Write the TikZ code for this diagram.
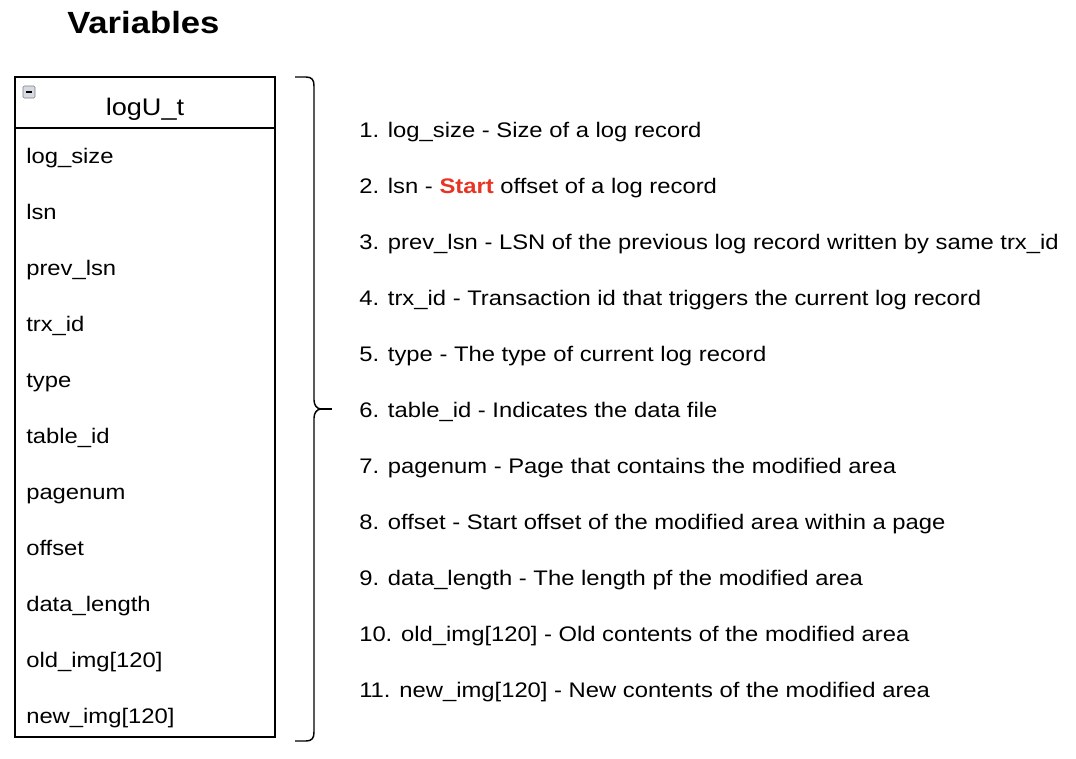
\documentclass[tikz,border=0pt]{standalone}
\usepackage{xcolor}
\usepackage{fontspec}
\setmainfont{Liberation Sans}[FakeStretch=1.13]
\usepackage{tikz}
\usetikzlibrary{positioning}
\definecolor{mydark}{RGB}{0,0,0}
\definecolor{startred}{RGB}{232,52,36}
\definecolor{iconfill}{RGB}{215,218,224}
\definecolor{iconframe}{RGB}{120,125,135}
\tikzset{
  title/.style={anchor=base west, inner sep=0pt,
    font=\fontsize{23}{27}\selectfont\bfseries},
  header/.style={anchor=base, inner sep=0pt,
    font=\fontsize{18}{21}\selectfont},
  field/.style={anchor=base west, inner sep=0pt,
    font=\fontsize{15.8}{19}\selectfont},
  item/.style={anchor=base west, inner sep=0pt,
    font=\fontsize{15.8}{19}\selectfont},
  frame/.style={draw=mydark, line width=1.1pt},
  bracket/.style={draw=mydark, line width=1.1pt}
}
\begin{document}
\begin{tikzpicture}[x=0.75pt, y=-0.75pt]
  \useasboundingbox (0,0) rectangle (1076,758);

  % Title
  \node[title] (title) at (67,33) {Variables};

  % Structure box
  \draw[frame] (15,77) rectangle (275,737);
  \draw[frame] (15,128) -- (275,128);
  \node[header] (hdr) at (145,115) {logU\_t};

  % Collapse icon
  \draw[fill=iconfill, draw=iconframe, rounded corners=1pt] (23,86) rectangle (35,98);
  \draw[mydark, line width=1.4pt] (26,92) -- (32,92);

  % Fields
  \foreach \v [count=\i] in {log\_size, lsn, prev\_lsn, trx\_id, type, table\_id,
      pagenum, offset, data\_length, old\_img[120], new\_img[120]}
    \node[field] (f\i) at (26,{163+56*(\i-1)}) {\v};

  % Brace
  \coordinate (btip) at (321,409);
  \draw[bracket] (295,77) -- (306,77) .. controls (312,77) and (314,80) .. (314,86)
    -- (314,400) .. controls (314,405) and (317,409) .. (btip)
    .. controls (317,409) and (314,413) .. (314,418)
    -- (314,732) .. controls (314,738) and (312,741) .. (306,741) -- (295,741);
  \draw[bracket] (btip) -- (332,409);

  % Descriptions
  \foreach \t [count=\i] in {
      {1. log\_size - Size of a log record},
      {2. lsn - \textcolor{startred}{\textbf{Start}} offset of a log record},
      {3. prev\_lsn - LSN of the previous log record written by same trx\_id},
      {4. trx\_id - Transaction id that triggers the current log record},
      {5. type - The type of current log record},
      {6. table\_id - Indicates the data file},
      {7. pagenum - Page that contains the modified area},
      {8. offset - Start offset of the modified area within a page},
      {9. data\_length - The length pf the modified area},
      {10. old\_img[120] - Old contents of the modified area},
      {11. new\_img[120] - New contents of the modified area}}
    \node[item] (d\i) at (359,{137+56*(\i-1)}) {\t};
\end{tikzpicture}
\end{document}
